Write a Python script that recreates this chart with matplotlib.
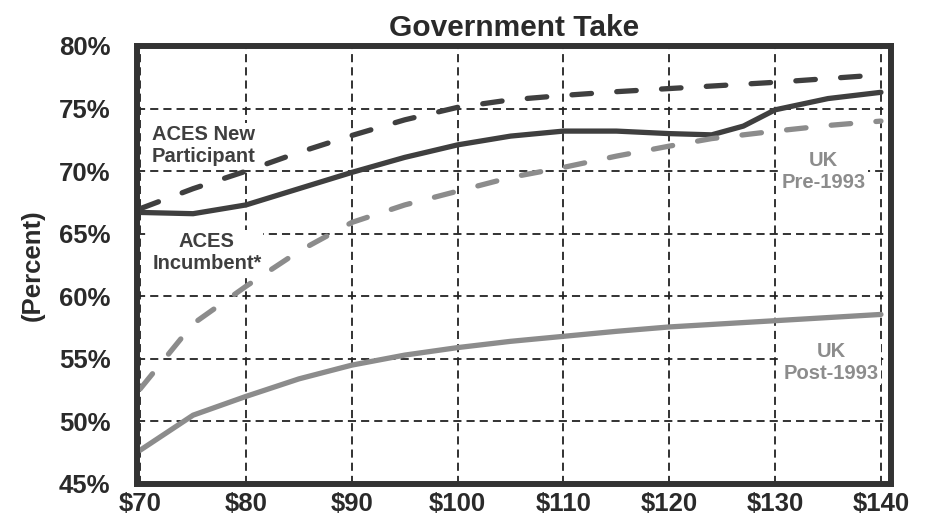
import matplotlib.pyplot as plt

plt.rcParams['font.family'] = ['Liberation Sans', 'DejaVu Sans']

# oil price ($/bbl) and government take (%)
price = [70, 75, 80, 85, 90, 95, 100, 105, 110, 115, 120, 124, 127, 130, 135, 140]
aces_new = [67.0, 68.6, 70.0, 71.5, 72.85, 74.1, 75.1, 75.7, 76.05, 76.35, 76.6, 76.8, 76.95, 77.1, 77.4, 77.7]
aces_inc = [66.7, 66.6, 67.3, 68.6, 69.9, 71.1, 72.1, 72.8, 73.2, 73.2, 73.0, 72.9, 73.6, 74.9, 75.8, 76.3]
uk_pre = [52.6, 57.8, 60.8, 63.6, 65.9, 67.3, 68.4, 69.5, 70.3, 71.2, 72.0, 72.6, 72.9, 73.2, 73.65, 74.0]
uk_post = [47.7, 50.5, 52.0, 53.4, 54.5, 55.3, 55.9, 56.4, 56.8, 57.2, 57.55, 57.75, 57.9, 58.05, 58.3, 58.55]

xticks = [70, 80, 90, 100, 110, 120, 130, 140]
yticks = [45, 50, 55, 60, 65, 70, 75, 80]

dark = "#3f3f3f"
grey = "#8c8c8c"

fig = plt.figure(figsize=(9.33, 5.19), dpi=100)
# axes box from 137..891 px horizontally, 46..484 px vertically
ax = fig.add_axes([137 / 933, 35 / 519, 754 / 933, 438 / 519])

ax.plot(price, aces_new, color=dark, lw=3.8, dashes=(3.7, 4.8), dash_capstyle="round", zorder=4)
ax.plot(price, aces_inc, color=dark, lw=3.8, solid_capstyle="round", zorder=4)
ax.plot(price, uk_pre, color=grey, lw=3.8, dashes=(3.7, 4.8), dash_capstyle="round", zorder=4)
ax.plot(price, uk_post, color=grey, lw=3.8, solid_capstyle="round", zorder=4)

ax.set_xlim(69.7, 140.95)
ax.set_ylim(45, 80)
ax.set_xticks(xticks)
ax.set_xticklabels(["$%d" % v for v in xticks])
ax.set_yticks(yticks)
ax.set_yticklabels(["%d%%" % v for v in yticks])
ax.tick_params(length=0, labelsize=18.5, colors="#2a2a2a")
ax.tick_params(axis="y", pad=19)
ax.tick_params(axis="x", pad=6)
for lab in ax.get_xticklabels() + ax.get_yticklabels():
    lab.set_fontweight("bold")

ax.grid(True, color="#222222", lw=1.3, linestyle=(0, (4.5, 2.8)), zorder=1)
ax.set_axisbelow(True)
for s in ax.spines.values():
    s.set_linewidth(4.3)
    s.set_color("#333333")
    s.set_zorder(5)

ax.set_title("Government Take", fontsize=21.5, fontweight="bold", color="#2a2a2a", pad=7)
ax.set_ylabel("(Percent)", fontsize=18.5, fontweight="bold", color="#2a2a2a", labelpad=10)

box = dict(facecolor="white", edgecolor="none", pad=1.5)
ax.text(71.1, 72.05, "ACES New\nParticipant", fontsize=14.5, fontweight="bold", color=dark,
        ha="left", va="center", linespacing=1.2, bbox=box, zorder=3)
ax.text(76.3, 63.5, "ACES\nIncumbent*", fontsize=14.5, fontweight="bold", color=dark,
        ha="center", va="center", linespacing=1.2, bbox=box, zorder=3)
ax.text(134.6, 70.0, "UK\nPre-1993", fontsize=14.5, fontweight="bold", color=grey,
        ha="center", va="center", linespacing=1.2, bbox=box, zorder=3)
ax.text(135.3, 54.7, "UK\nPost-1993", fontsize=14.5, fontweight="bold", color=grey,
        ha="center", va="center", linespacing=1.2, bbox=box, zorder=3)

fig.savefig("out.png", dpi=100)
